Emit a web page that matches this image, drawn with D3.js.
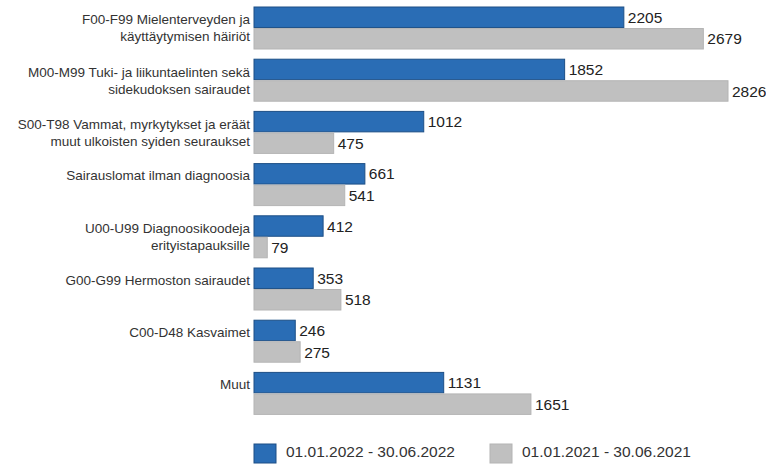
<!DOCTYPE html>
<html><head><meta charset="utf-8">
<script src="https://cdn.jsdelivr.net/npm/d3@7"></script>
<style>body{margin:0;background:#fff}svg{display:block}</style>
</head><body>
<svg id="c" width="766" height="464"></svg>
<script>
const categories = [
  ["F00-F99 Mielenterveyden ja", "käyttäytymisen häiriöt"],
  ["M00-M99 Tuki- ja liikuntaelinten sekä", "sidekudoksen sairaudet"],
  ["S00-T98 Vammat, myrkytykset ja eräät", "muut ulkoisten syiden seuraukset"],
  ["Sairauslomat ilman diagnoosia"],
  ["U00-U99 Diagnoosikoodeja", "erityistapauksille"],
  ["G00-G99 Hermoston sairaudet"],
  ["C00-D48 Kasvaimet"],
  ["Muut"]
];
const values2022 = [2205, 1852, 1012, 661, 412, 353, 246, 1131];
const values2021 = [2679, 2826, 475, 541, 79, 518, 275, 1651];
const seriesNames = ["01.01.2022 - 30.06.2022", "01.01.2021 - 30.06.2021"];
const colors = ["#2a6db5", "#c0c0c0"];
const strokes = ["#1d4f86", "#b4b4b4"];

const svg = d3.select("#c");
const x = d3.scaleLinear().domain([0, 2826]).range([254, 728]);
const y1 = d3.scaleBand().domain([0, 1]).range([0, 42]).paddingInner(0.05);
const step = 52.2;

const series = [values2022, values2021];
const g = svg.append("g");
const font = "Liberation Sans, Arial, sans-serif";
categories.forEach((cat, i) => {
  const top = 7 + i * step;
  series.forEach((vals, s) => {
    const by = top + y1(s);
    const bh = y1.bandwidth();
    g.append("rect").attr("x", x(0)).attr("y", by).attr("width", x(vals[i]) - x(0)).attr("height", bh)
      .attr("fill", colors[s]).attr("stroke", strokes[s]).attr("stroke-width", 1);
    g.append("text").attr("x", x(vals[i]) + 4).attr("y", by + bh / 2).attr("dy", "0.36em")
      .attr("font-family", font).attr("font-size", 15.5).attr("fill", "#222")
      .text(vals[i]);
  });
  cat.forEach((line, k) => {
    let ly;
    if (cat.length === 1) ly = top + y1(0) + y1.bandwidth() / 2 + 1.5;
    else ly = top + 21 + (k === 0 ? -8.5 : 8.5);
    g.append("text").attr("x", 250).attr("y", ly).attr("dy", "0.36em").attr("text-anchor", "end")
      .attr("font-family", font).attr("font-size", 13.5).attr("fill", "#333")
      .text(line);
  });
});

const legX = [254, 490];
seriesNames.forEach((n, s) => {
  svg.append("rect").attr("x", legX[s]).attr("y", 444).attr("width", 22).attr("height", 19)
    .attr("fill", colors[s]).attr("stroke", strokes[s]);
  svg.append("text").attr("x", legX[s] + 32).attr("y", 451).attr("dy", "0.36em")
    .attr("font-family", font).attr("font-size", 15.5).attr("fill", "#333").text(n);
});
</script>
</body></html>
